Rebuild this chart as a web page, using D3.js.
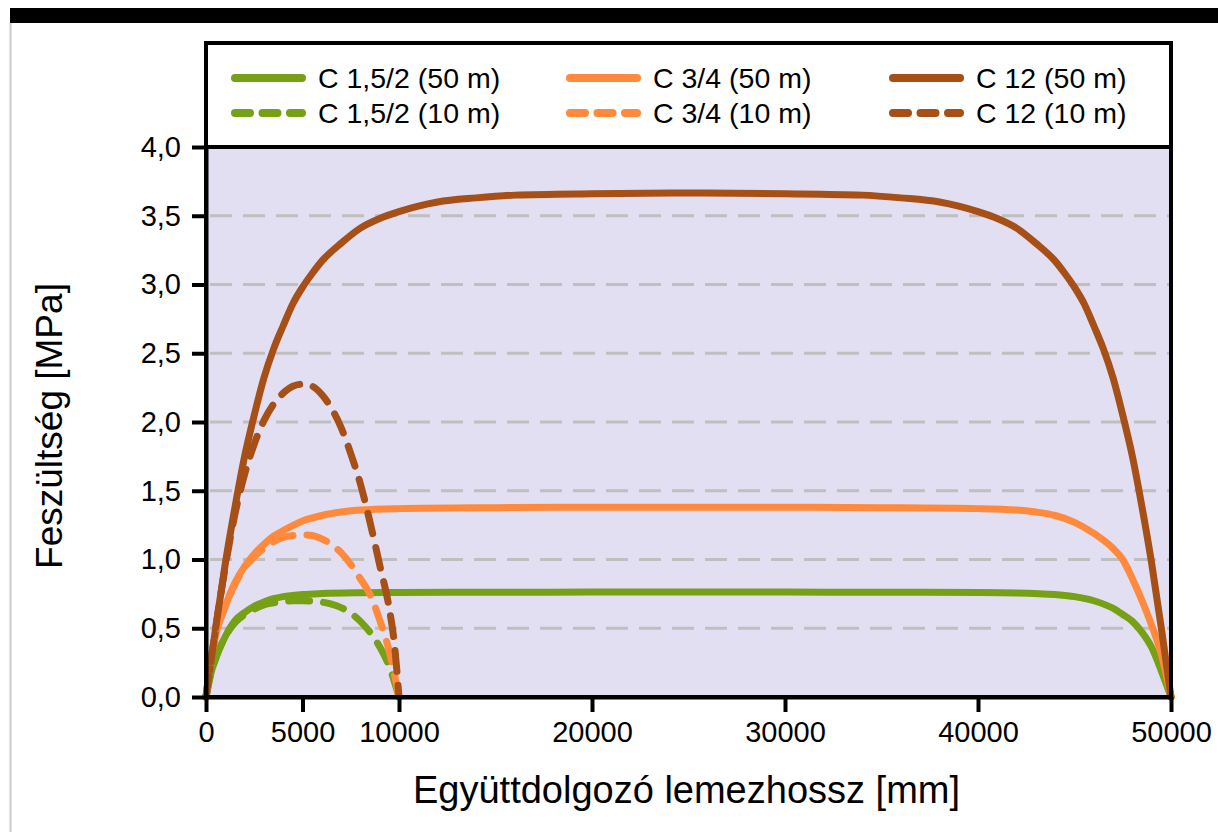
<!DOCTYPE html>
<html>
  <head>
    <meta charset="utf-8" />
    <title>Feszültség</title>
    <script src="https://d3js.org/d3.v7.min.js"></script>
    <style>
        body {
            margin:0;
            background:white;
        }
        text {
            font-family: "Liberation Sans", Arial, sans-serif;
        }
    </style>
  </head>
  <body>
      <svg id="viz"></svg>

    <script>

        var width = 1218;
        var height = 832;

        // tick values
        var xTicks = [0, 5000, 10000, 20000, 30000, 40000, 50000];
        var yTicks = [0, 0.5, 1, 1.5, 2, 2.5, 3, 3.5, 4];

        // series: [hossz mm, feszültség MPa]
        var c15_50 = [[0,0],[250,0.17],[500,0.28],[1000,0.44],[1500,0.555],[2000,0.615],[2500,0.66],[3000,0.69],[3500,0.715],[4000,0.73],[5000,0.745],[6000,0.752],[8000,0.758],[10000,0.76],[15000,0.762],[20000,0.763],[25000,0.763],[30000,0.763],[35000,0.762],[40000,0.76],[42000,0.757],[44000,0.745],[45000,0.73],[46000,0.70],[47000,0.645],[47500,0.60],[48000,0.55],[48500,0.47],[49000,0.36],[49500,0.19],[50000,0]];
        var c15_10 = [[0,0],[250,0.17],[500,0.28],[1000,0.44],[1500,0.54],[2000,0.6],[2500,0.64],[3000,0.67],[3500,0.685],[4000,0.695],[4500,0.70],[5000,0.70],[5500,0.697],[6000,0.69],[6500,0.675],[7000,0.65],[7500,0.61],[8000,0.55],[8500,0.47],[9000,0.365],[9500,0.22],[10000,0]];
        var c34_50 = [[0,0],[250,0.27],[500,0.45],[1000,0.66],[1500,0.83],[2000,0.95],[2500,1.04],[3000,1.11],[3500,1.17],[4000,1.21],[5000,1.28],[6000,1.32],[7000,1.345],[8000,1.36],[10000,1.37],[15000,1.377],[20000,1.38],[25000,1.38],[30000,1.38],[35000,1.377],[40000,1.37],[42000,1.36],[43000,1.345],[44000,1.32],[45000,1.27],[46000,1.19],[47000,1.08],[47500,1.0],[48000,0.86],[48500,0.7],[49000,0.52],[49500,0.31],[50000,0]];
        var c34_10 = [[0,0],[250,0.27],[500,0.45],[1000,0.66],[1500,0.82],[2000,0.94],[2500,1.02],[3000,1.08],[3500,1.13],[4000,1.16],[4500,1.175],[5000,1.18],[5500,1.175],[6000,1.15],[6500,1.11],[7000,1.05],[7500,0.965],[8000,0.86],[8500,0.745],[9000,0.56],[9500,0.33],[10000,0]];
        var c12_50 = [[0,0],[250,0.25],[500,0.5],[1000,0.97],[1500,1.38],[2000,1.75],[2500,2.05],[3000,2.32],[3500,2.53],[4000,2.7],[4500,2.86],[5000,2.98],[5500,3.08],[6000,3.17],[7000,3.3],[8000,3.41],[9000,3.48],[10000,3.53],[11000,3.57],[12000,3.6],[14000,3.63],[16000,3.65],[20000,3.66],[25000,3.665],[30000,3.66],[34000,3.65],[36000,3.63],[38000,3.6],[39000,3.57],[40000,3.53],[41000,3.48],[42000,3.41],[43000,3.3],[44000,3.17],[44500,3.08],[45000,2.98],[45500,2.86],[46000,2.7],[46500,2.53],[47000,2.32],[47500,2.05],[48000,1.75],[48500,1.38],[49000,0.97],[49500,0.5],[50000,0]];
        var c12_10 = [[0,0],[250,0.25],[500,0.5],[1000,0.95],[1500,1.33],[2000,1.62],[2500,1.84],[3000,2.01],[3500,2.13],[4000,2.21],[4500,2.26],[5000,2.275],[5500,2.26],[6000,2.2],[6500,2.1],[7000,1.96],[7500,1.77],[8000,1.55],[8500,1.27],[9000,0.96],[9500,0.64],[9750,0.4],[10000,0]];

        var seriesNames = ["C 1,5/2 (50 m)", "C 1,5/2 (10 m)", "C 3/4 (50 m)", "C 3/4 (10 m)", "C 12 (50 m)", "C 12 (10 m)"];
        var seriesData = [c15_50, c15_10, c34_50, c34_10, c12_50, c12_10];
        var seriesColors = ["#76a016", "#76a016", "#ff8a3d", "#ff8a3d", "#a64f17", "#a64f17"];
        var seriesDashed = [false, true, false, true, false, true];

        var svg = d3.select("#viz")
        .attr("width", width)
        .attr("height", height);

        // page decoration
        svg.append("rect").attr("x", 10).attr("y", 8).attr("width", width - 10).attr("height", 15).attr("fill", "black");
        svg.append("line").attr("x1", 10.5).attr("x2", 10.5).attr("y1", 23).attr("y2", height)
          .attr("stroke", "#cccccc").attr("stroke-width", 2);

        var plotLeft = 206, plotRight = 1171, plotTop = 147, plotBottom = 697, boxTop = 43;

        var x = d3.scaleLinear().domain([0, 50000]).range([plotLeft, plotRight]);
        var y = d3.scaleLinear().domain([0, 4]).range([plotBottom, plotTop]);

        // plot background
        svg.append("rect")
          .attr("x", plotLeft).attr("y", plotTop)
          .attr("width", plotRight - plotLeft).attr("height", plotBottom - plotTop)
          .attr("fill", "#e2dff3");

        // grid
        svg.append("g").selectAll("line")
          .data(yTicks.filter(function (d) { return d > 0 && d < 4; }))
          .enter().append("line")
          .attr("x1", plotLeft + 4).attr("x2", plotRight - 2)
          .attr("y1", function (d) { return y(d); })
          .attr("y2", function (d) { return y(d); })
          .attr("stroke", "#bfbfbf")
          .attr("stroke-width", 3)
          .attr("stroke-dasharray", "22,11");

        // lines
        var line = d3.line()
          .x(function (d) { return x(d[0]); })
          .y(function (d) { return y(d[1]); })
          .curve(d3.curveMonotoneX);

        var order = [0, 2, 4, 1, 3, 5];
        order.forEach(function (i) {
            svg.append("path")
              .attr("d", line(seriesData[i]))
              .attr("fill", "none")
              .attr("stroke", seriesColors[i])
              .attr("stroke-width", 7)
              .attr("stroke-linecap", "round")
              .attr("stroke-linejoin", "round")
              .attr("stroke-dasharray", seriesDashed[i] ? "21,14" : null);
        });

        // frame (legend box + plot)
        svg.append("rect")
          .attr("x", plotLeft).attr("y", boxTop)
          .attr("width", plotRight - plotLeft).attr("height", plotBottom - boxTop)
          .attr("fill", "none").attr("stroke", "black").attr("stroke-width", 4);
        svg.append("line")
          .attr("x1", plotLeft).attr("x2", plotRight).attr("y1", plotTop).attr("y2", plotTop)
          .attr("stroke", "black").attr("stroke-width", 4);

        // axes
        var fmt = function (d) { return d.toFixed(1).replace(".", ","); };

        var yAxis = svg.append("g")
          .attr("transform", "translate(" + plotLeft + ",0)")
          .call(d3.axisLeft(y).tickValues(yTicks).tickSize(14).tickSizeOuter(0).tickPadding(11).tickFormat(fmt));

        var xAxis = svg.append("g")
          .attr("transform", "translate(0," + plotBottom + ")")
          .call(d3.axisBottom(x).tickValues(xTicks).tickSize(15).tickSizeOuter(0).tickPadding(9).tickFormat(d3.format("d")));

        [xAxis, yAxis].forEach(function (a) {
            a.select(".domain").attr("stroke", "black").attr("stroke-width", 4);
            a.selectAll(".tick line").attr("stroke", "black").attr("stroke-width", 4);
            a.selectAll(".tick text")
              .attr("fill", "black")
              .style("font-size", "29px")
              .style("font-family", "'Liberation Sans', Arial, sans-serif");
        });

        // axis titles
        svg.append("text")
          .attr("x", (plotLeft + plotRight) / 2 - 2).attr("y", 803)
          .attr("text-anchor", "middle")
          .style("font-size", "38px")
          .text("Együttdolgozó lemezhossz [mm]");

        svg.append("text")
          .attr("transform", "translate(62," + ((plotTop + plotBottom) / 2 + 4) + ") rotate(-90)")
          .attr("text-anchor", "middle")
          .style("font-size", "37px")
          .text("Feszültség [MPa]");

        // legend
        var legX = [232, 567, 890];
        var legY = [78, 113];
        var legend = svg.append("g");
        seriesNames.forEach(function (name, i) {
            var cx = legX[Math.floor(i / 2)];
            var cy = legY[i % 2];
            legend.append("line")
              .attr("x1", cx + 3).attr("x2", cx + 70)
              .attr("y1", cy).attr("y2", cy)
              .attr("stroke", seriesColors[i])
              .attr("stroke-width", 8)
              .attr("stroke-linecap", "round")
              .attr("stroke-dasharray", seriesDashed[i] ? "15,12.5" : null);
            legend.append("text")
              .attr("x", cx + 86).attr("y", cy + 10)
              .style("font-size", "28.5px")
              .text(name);
        });

    </script>
  </body>
</html>
